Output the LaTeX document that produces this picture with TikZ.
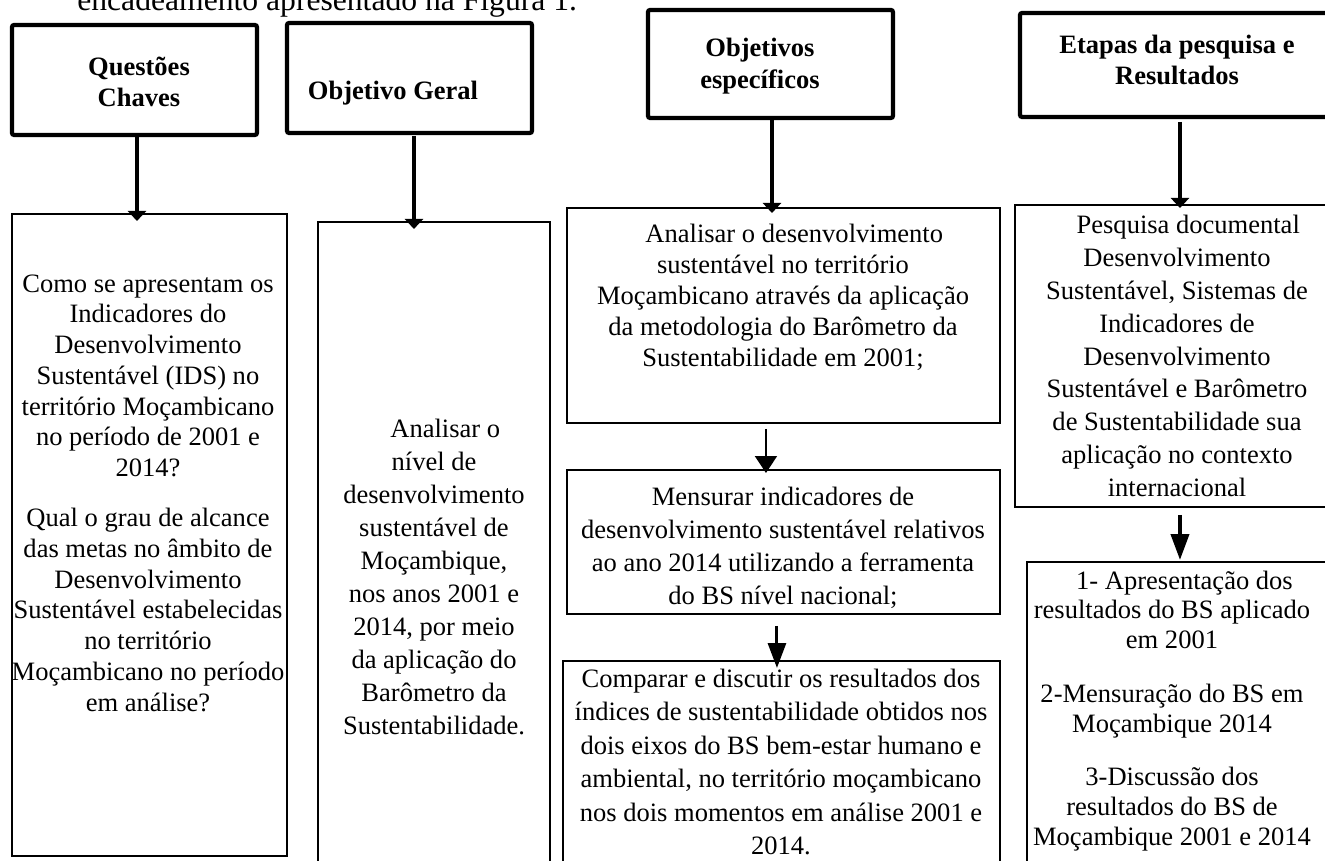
\documentclass[tikz,border=0pt]{standalone}
\usepackage{fontspec}
\setmainfont{Liberation Serif}
\usepackage{tikz}
\usetikzlibrary{arrows.meta,positioning}
\tikzset{%
    >={Triangle[length=2mm,width=3.6mm]},
    head/.style={draw,line width=2.4pt,rounded corners=1.2pt,inner sep=0pt,outer sep=0pt,anchor=north west},
    frame/.style={draw,line width=1pt,inner sep=0pt,outer sep=0pt,anchor=north west},
    htxt/.style={inner sep=0pt,align=center,font=\bfseries\fontsize{15.1}{18}\selectfont},
    txt/.style={inner sep=0pt,align=center,font=\fontsize{15.1}{#1}\selectfont},
    txt/.default=18,
    bigarrow/.style={->,line width=2.8pt}
}

\begin{document}
\begin{tikzpicture}[x=0.02cm,y=-0.02cm]
      \useasboundingbox (0,0) rectangle (1325,861);

      % line of the page above the figure
      \node[anchor=base west,inner sep=0pt,font=\fontsize{18}{21}\selectfont] (intro) at (77,11) {encadeamento apresentado na Figura 1.};

      % headers
      \node[head,minimum width=4.9cm,minimum height=2.2cm] (qh) at (12,25) {};
      \node[head,minimum width=4.9cm,minimum height=2.2cm] (gh) at (287,23) {};
      \node[head,minimum width=4.9cm,minimum height=2.16cm] (eh) at (648,10) {};
      \node[head,minimum width=6.4cm,minimum height=2.08cm] (rh) at (1020,13) {};
      \node[htxt] (qht) at (139,82) {Questões\\Chaves};
      \node[htxt] (ght) at (393,93) {Objetivo Geral};
      \node[htxt] (eht) at (760,66) {Objetivos\\específicos};
      \node[htxt] (rht) at (1177,60) {Etapas da pesquisa e\\Resultados};

      % boxes
      \node[frame,minimum width=5.5cm,minimum height=12.84cm] (q) at (12,214) {};
      \node[frame,minimum width=4.64cm,minimum height=13.2cm] (g) at (318,222) {};
      \node[frame,minimum width=8.66cm,minimum height=4.3cm] (e1) at (567,208) {};
      \node[frame,minimum width=8.66cm,minimum height=2.88cm] (e2) at (567,470) {};
      \node[frame,minimum width=8.74cm,minimum height=4.5cm] (e3) at (563,661) {};
      \node[frame,minimum width=6.5cm,minimum height=6.04cm] (r1) at (1015,205) {};
      \node[frame,minimum width=6.26cm,minimum height=6.5cm] (r2) at (1027,562) {};

      \node[txt=17.5] (qt) at (148,493) {Como se apresentam os\\Indicadores do\\Desenvolvimento\\Sustentável (IDS) no\\território Moçambicano\\no período de 2001 e\\2014?\\[11pt]Qual o grau de alcance\\das metas no âmbito de\\Desenvolvimento\\Sustentável estabelecidas\\no território\\Moçambicano no período\\em análise?};
      \node[txt=18.8] (gt) at (434,577) {\hspace*{0.45cm}Analisar o\\nível de\\desenvolvimento\\sustentável de\\Moçambique,\\nos anos 2001 e\\2014, por meio\\da aplicação do\\Barômetro da\\Sustentabilidade.};
      \node[txt=17.6] (e1t) at (783,297) {\hspace*{0.45cm}Analisar o desenvolvimento\\sustentável no território\\Moçambicano através da aplicação\\da metodologia do Barômetro da\\Sustentabilidade em 2001;};
      \node[txt=18.8] (e2t) at (783,548) {Mensurar indicadores de\\desenvolvimento sustentável relativos\\ao ano 2014 utilizando a ferramenta\\do BS nível nacional;};
      \node[txt=19] (e3t) at (781,762) {Comparar e discutir os resultados dos\\índices de sustentabilidade obtidos nos\\dois eixos do BS bem-estar humano e\\ambiental, no território moçambicano\\nos dois momentos em análise 2001 e\\2014.};
      \node[txt=18.7] (r1t) at (1177,356) {\hspace*{0.45cm}Pesquisa documental\\Desenvolvimento\\Sustentável, Sistemas de\\Indicadores de\\Desenvolvimento\\Sustentável e Barômetro\\de Sustentabilidade sua\\aplicação no contexto\\internacional};
      \node[txt=17] (r2t) at (1172,711) {\hspace*{0.5cm}1- Apresentação dos\\resultados do BS aplicado\\em 2001\\[13.5pt]2-Mensuração do BS em\\Moçambique 2014\\[13.5pt]3-Discussão dos\\resultados do BS de\\Moçambique 2001 e 2014};

      % arrows
      \draw[bigarrow,shorten >=-0.14cm] ([xshift=0.05cm]qh.south) -- ([xshift=0.05cm]qh.south |- q.north);
      \draw[bigarrow,shorten <=0.06cm,shorten >=-0.14cm] ([xshift=0.09cm]gh.south) -- ([xshift=0.09cm]gh.south |- g.north);
      \draw[bigarrow,shorten >=-0.1cm] ([xshift=0.03cm]eh.south) -- ([xshift=0.03cm]eh.south |- e1.north);
      \draw[bigarrow,shorten <=0.1cm,shorten >=-0.06cm] (rh.south) -- (rh.south |- r1.north);
      \draw[-{Triangle[length=3.4mm,width=4.4mm]},line width=1.2pt,shorten <=0.12cm,shorten >=-0.06cm] ([xshift=-0.35cm]e1.south) -- ([xshift=-0.35cm]e1.south |- e2.north);
      \draw[-{Triangle[length=5mm,width=3.6mm]},line width=1.7pt,shorten <=0.24cm,shorten >=-0.14cm] ([xshift=-0.13cm]e2.south) -- ([xshift=-0.13cm]e2.south |- e3.north);
      \draw[-{Triangle[length=5.2mm,width=3.6mm]},line width=2.3pt,shorten <=0.16cm,shorten >=0.04cm] ([xshift=0.05cm]r1.south) -- ([xshift=0.05cm]r1.south |- r2.north);
\end{tikzpicture}
\end{document}
